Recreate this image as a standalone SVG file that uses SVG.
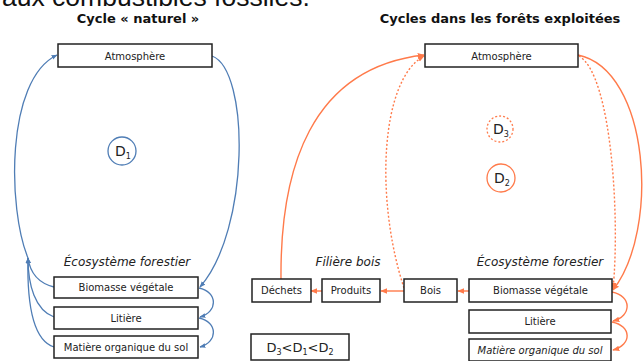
<svg xmlns="http://www.w3.org/2000/svg" width="643" height="361" viewBox="0 0 643 361">
<style>
.box{fill:#fff;stroke:#222;stroke-width:1.5}
.t{font-family:"DejaVu Sans",sans-serif;font-size:10px;fill:#222;text-anchor:middle}
.ti{font-family:"DejaVu Sans",sans-serif;font-size:12px;font-style:italic;fill:#222;text-anchor:middle}
.h{font-family:"DejaVu Sans",sans-serif;font-size:13px;font-weight:bold;fill:#111;text-anchor:middle}
.b{fill:none;stroke:#4f7db5;stroke-width:1.3}
.o{fill:none;stroke:#ff7a4a;stroke-width:1.4}
.d{stroke-dasharray:2,2}
.dl{font-family:"DejaVu Sans",sans-serif;font-size:14px;fill:#222}
</style>
<defs>
<marker id="ab" viewBox="0 0 10 10" refX="9" refY="5" markerWidth="6" markerHeight="6" markerUnits="userSpaceOnUse" orient="auto"><path d="M0,1 L10,5 L0,9 z" fill="#4f7db5"/></marker>
<marker id="ao" viewBox="0 0 10 10" refX="9" refY="5" markerWidth="7" markerHeight="7" markerUnits="userSpaceOnUse" orient="auto"><path d="M0,1 L10,5 L0,9 z" fill="#ff7a4a"/></marker>
</defs>
<rect width="643" height="361" fill="#fff"/>
<text x="2" y="5.5" font-family="Liberation Sans, sans-serif" font-size="26.5" fill="#111">aux combustibles fossiles.</text>
<text class="h" x="138" y="23">Cycle « naturel »</text>
<text class="h" x="500" y="23">Cycles dans les forêts exploitées</text>

<g id="connectors">
<path class="b" d="M54,287 C38,283 30,272 28,258" marker-end="url(#ab)"/>
<path class="b" d="M54,317 C35,310 28,285 28,258" marker-end="url(#ab)"/>
<path class="b" d="M54,347 C32,340 27,300 28,258" marker-end="url(#ab)"/>
<path class="b" d="M28,258 C8,210 5,80 57,55" marker-end="url(#ab)"/>
<path class="b" d="M212,56 C250,70 250,230 200,287" marker-end="url(#ab)"/>
<path class="b" d="M199,288 C218,292 218,312 200,317" marker-end="url(#ab)"/>
<path class="b" d="M199,318 C218,322 218,342 200,347" marker-end="url(#ab)"/>

<path class="o" d="M404,291 L381,291" marker-end="url(#ao)"/>
<path class="o" d="M322,291 L311,291" marker-end="url(#ao)"/>
<path class="o" d="M469,291 L458,291" marker-end="url(#ao)"/>
<path class="o" d="M281,279 C280,170 310,68 424,55" marker-end="url(#ao)"/>
<path class="o d" d="M404,288 C375,200 380,80 424,56" marker-end="url(#ao)"/>
<path class="o" d="M578,55 C650,70 660,230 613,290" marker-end="url(#ao)"/>
<path class="o d" d="M579,56 C612,75 620,220 613,289" marker-end="url(#ao)"/>
<path class="o" d="M612,292 C632,296 632,316 613,321" marker-end="url(#ao)"/>
<path class="o" d="M612,322 C632,326 632,345 613,350" marker-end="url(#ao)"/>
</g>

<g id="atm-left"><rect class="box" x="58" y="44" width="154" height="23"/><text class="t" x="135" y="59.5" font-size="11">Atmosphère</text></g>
<g id="d1"><circle cx="122" cy="151" r="14" fill="#fff" stroke="#4f7db5" stroke-width="1.3"/><text class="dl" x="115" y="156">D<tspan font-size="8" dy="3">1</tspan></text></g>
<text class="ti" x="127" y="266">Écosystème forestier</text>
<g id="bio-left"><rect class="box" x="54" y="277" width="144" height="21"/><text class="t" x="126" y="291">Biomasse végétale</text></g>
<g id="lit-left"><rect class="box" x="54" y="307" width="144" height="22"/><text class="t" x="126" y="321.5">Litière</text></g>
<g id="mat-left"><rect class="box" x="54" y="336" width="144" height="22"/><text class="t" x="126" y="350.5">Matière organique du sol</text></g>

<g id="atm-right"><rect class="box" x="425" y="44" width="153" height="23"/><text class="t" x="501.5" y="59.5" font-size="11">Atmosphère</text></g>
<g id="d3"><circle cx="500" cy="129" r="13" fill="#fff" stroke="#ff7a4a" stroke-width="1.3" stroke-dasharray="2,2"/><text class="dl" x="493" y="134">D<tspan font-size="8" dy="3">3</tspan></text></g>
<g id="d2"><circle cx="501" cy="178" r="14" fill="#fff" stroke="#ff7a4a" stroke-width="1.3"/><text class="dl" x="494" y="183">D<tspan font-size="8" dy="3">2</tspan></text></g>
<text class="ti" x="348" y="266">Filière bois</text>
<text class="ti" x="540" y="266">Écosystème forestier</text>
<g id="dechets"><rect class="box" x="252" y="279" width="59" height="23"/><text class="t" x="281.5" y="294">Déchets</text></g>
<g id="produits"><rect class="box" x="322" y="279" width="58" height="23"/><text class="t" x="351" y="294">Produits</text></g>
<g id="bois"><rect class="box" x="404" y="279" width="53" height="23"/><text class="t" x="430.5" y="294">Bois</text></g>
<g id="bio-right"><rect class="box" x="469" y="279" width="143" height="23"/><text class="t" x="540.5" y="294">Biomasse végétale</text></g>
<g id="lit-right"><rect class="box" x="469" y="310" width="142" height="23"/><text class="t" x="540" y="325">Litière</text></g>
<g id="mat-right"><rect class="box" x="469" y="339" width="142" height="22"/><text class="t" x="540" y="354" font-style="italic">Matière organique du sol</text></g>
<g id="inequality"><rect class="box" x="251" y="334" width="98" height="26"/><text x="300" y="352" font-family="DejaVu Sans, sans-serif" font-size="13" fill="#222" text-anchor="middle">D<tspan font-size="8" dy="3">3</tspan><tspan dy="-3">&lt;D</tspan><tspan font-size="8" dy="3">1</tspan><tspan dy="-3">&lt;D</tspan><tspan font-size="8" dy="3">2</tspan></text></g>
</svg>
